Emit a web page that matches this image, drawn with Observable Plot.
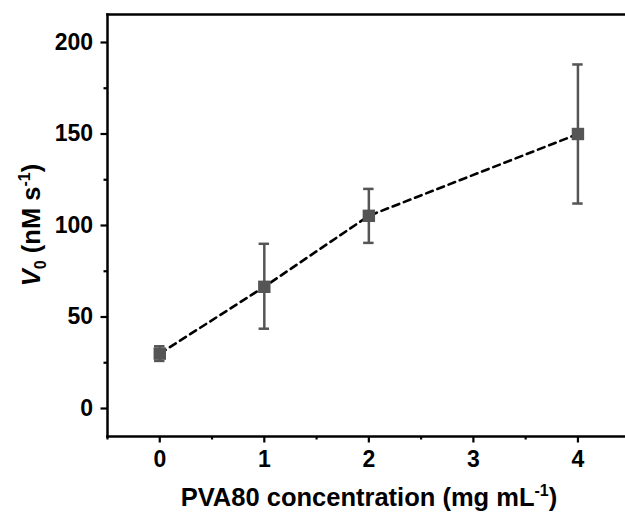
<!DOCTYPE html>
<html>
<head>
<meta charset="utf-8">
<script src="https://cdn.jsdelivr.net/npm/d3@7"></script>
<script src="https://cdn.jsdelivr.net/npm/@observablehq/plot@0.6"></script>
<style>
  html, body { margin: 0; padding: 0; background: #fff; overflow: hidden; }
  svg { display: block; }
</style>
</head>
<body>
<div id="chart"></div>
<script>
const concentrations = [0, 1, 2, 4];
const v0 = [30, 66.5, 105.3, 150];
const errLow = [26, 43.6, 90.5, 112];
const errHigh = [34, 90, 120, 188];
const xTicks = [0, 1, 2, 3, 4];
const xMinor = [-0.5, 0.5, 1.5, 2.5, 3.5];
const yTicks = [0, 50, 100, 150, 200];
const yMinor = [25, 75, 125, 175];

const data = concentrations.map((c, i) => ({x: c, y: v0[i], lo: errLow[i], hi: errHigh[i]}));
const capHalf = 0.05;
const gray = "#555555";
const font = "'Liberation Sans', Arial, sans-serif";

const plot = Plot.plot({
  width: 625,
  height: 520,
  marginLeft: 107,
  marginRight: 0,
  marginTop: 14,
  marginBottom: 84,
  style: {fontFamily: font, fontWeight: "bold", fontSize: "23px", color: "#000", background: "#fff"},
  x: {domain: [-0.5, 4.455], label: null},
  y: {domain: [-15.3, 215.3], label: null},
  marks: [
    Plot.axisX({ticks: xMinor, tickSize: 3.5, tickFormat: () => "", strokeWidth: 2.2}),
    Plot.axisX({ticks: xTicks, tickSize: 6.5, tickPadding: 8, tickFormat: d3.format("d"), strokeWidth: 2.2, fontSize: 23, fontWeight: "bold"}),
    Plot.axisY({ticks: yMinor, tickSize: 3.5, tickFormat: () => "", strokeWidth: 2.2}),
    Plot.axisY({ticks: yTicks, tickSize: 6.5, tickPadding: 8, tickFormat: d3.format("d"), strokeWidth: 2.2, fontSize: 23, fontWeight: "bold"}),
    Plot.line(data, {x: "x", y: "y", stroke: "#000", strokeWidth: 2.6, strokeDasharray: "7,5"}),
    Plot.ruleX(data, {x: "x", y1: "lo", y2: "hi", stroke: gray, strokeWidth: 2.5}),
    Plot.ruleY(data, {y: "hi", x1: d => d.x - capHalf, x2: d => d.x + capHalf, stroke: gray, strokeWidth: 2.5}),
    Plot.ruleY(data, {y: "lo", x1: d => d.x - capHalf, x2: d => d.x + capHalf, stroke: gray, strokeWidth: 2.5}),
    Plot.dot(data, {x: "x", y: "y", symbol: "square", r: 7, fill: gray, stroke: "none"}),
    Plot.frame({anchor: "top", stroke: "#000", strokeWidth: 2.5}),
    Plot.frame({anchor: "left", stroke: "#000", strokeWidth: 2.5}),
    Plot.frame({anchor: "bottom", stroke: "#000", strokeWidth: 2.5})
  ]
});

document.getElementById("chart").appendChild(plot);

// Axis titles with sub/superscripts
const svg = d3.select(plot);
const xt = svg.append("text")
  .attr("x", 369).attr("y", 506)
  .attr("text-anchor", "middle")
  .attr("font-family", font).attr("font-weight", "bold").attr("font-size", 25.5)
  .attr("fill", "#000");
xt.append("tspan").text("PVA80 concentration (mg mL");
xt.append("tspan").attr("dy", -10).attr("font-size", 16).text("-1");
xt.append("tspan").attr("dy", 10).text(")");

const yt = svg.append("text")
  .attr("transform", "translate(40,225) rotate(-90)")
  .attr("text-anchor", "middle")
  .attr("font-family", font).attr("font-weight", "bold").attr("font-size", 25.5)
  .attr("fill", "#000");
yt.append("tspan").attr("font-style", "italic").text("V");
yt.append("tspan").attr("dy", 6).attr("font-size", 16).text("0");
yt.append("tspan").attr("dy", -6).text(" (nM s");
yt.append("tspan").attr("dy", -10).attr("font-size", 16).text("-1");
yt.append("tspan").attr("dy", 10).text(")");
</script>
</body>
</html>
